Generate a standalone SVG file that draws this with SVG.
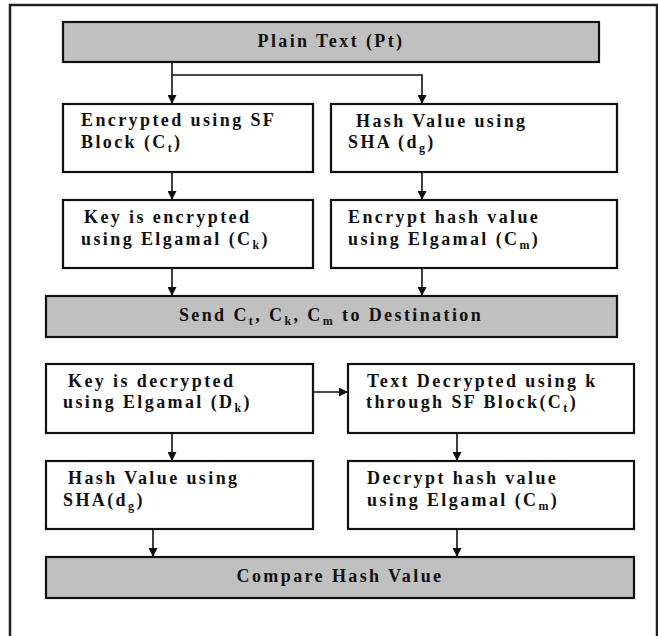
<svg xmlns="http://www.w3.org/2000/svg" width="658" height="636" viewBox="0 0 658 636">
<style>
.box{fill:#ffffff;stroke:#111;stroke-width:2.2}
.gray{fill:#c0c0c0;stroke:#111;stroke-width:2.2}
.t{font-family:"Liberation Serif","Times New Roman",serif;font-weight:bold;font-size:18px;fill:#111;letter-spacing:2.4px}
.c{text-anchor:middle}
.sub{font-size:12px}
.ln{fill:none;stroke:#111;stroke-width:1.6}
</style>
<defs>
<marker id="ah" viewBox="0 0 10 10" refX="10" refY="5" markerWidth="9" markerHeight="9" markerUnits="userSpaceOnUse" orient="auto">
<path d="M0,0 L10,5 L0,10 z" fill="#111"/>
</marker>
</defs>
<rect width="658" height="636" fill="#fff"/>
<path d="M10,640 V5 H657 V640" fill="none" stroke="#222" stroke-width="2.5"/>
<g id="connectors">
<path class="ln" d="M172,62 V104" marker-end="url(#ah)"/>
<path class="ln" d="M172,75 H422 V104" marker-end="url(#ah)"/>
<path class="ln" d="M172,172 V200" marker-end="url(#ah)"/>
<path class="ln" d="M422,172 V200" marker-end="url(#ah)"/>
<path class="ln" d="M172,268 V296" marker-end="url(#ah)"/>
<path class="ln" d="M422,268 V296" marker-end="url(#ah)"/>
<path class="ln" d="M313,392 H348" marker-end="url(#ah)"/>
<path class="ln" d="M172,433 V461" marker-end="url(#ah)"/>
<path class="ln" d="M457,433 V461" marker-end="url(#ah)"/>
<path class="ln" d="M153,529 V557" marker-end="url(#ah)"/>
<path class="ln" d="M457,529 V557" marker-end="url(#ah)"/>
</g>
<g id="plain">
<rect class="gray" x="63" y="22" width="536" height="40"/>
<text class="t c" x="331" y="47">Plain Text (Pt)</text>
</g>
<g id="encsf">
<rect class="box" x="63" y="104" width="250" height="68"/>
<text class="t" x="81" y="126">Encrypted using SF</text>
<text class="t" x="81" y="148">Block (C<tspan class="sub" dy="4">t</tspan><tspan dy="-4">)</tspan></text>
</g>
<g id="hashsha">
<rect class="box" x="331" y="104" width="286" height="68"/>
<text class="t" x="356" y="127">Hash Value using</text>
<text class="t" x="348" y="148">SHA (d<tspan class="sub" dy="4">g</tspan><tspan dy="-4">)</tspan></text>
</g>
<g id="keyenc">
<rect class="box" x="63" y="200" width="250" height="68"/>
<text class="t" x="84" y="223">Key is encrypted</text>
<text class="t" x="81" y="245">using Elgamal (C<tspan class="sub" dy="4">k</tspan><tspan dy="-4">)</tspan></text>
</g>
<g id="enchash">
<rect class="box" x="331" y="200" width="286" height="68"/>
<text class="t" x="348" y="223">Encrypt hash value</text>
<text class="t" x="348" y="245">using Elgamal (C<tspan class="sub" dy="4">m</tspan><tspan dy="-4">)</tspan></text>
</g>
<g id="send">
<rect class="gray" x="46" y="296" width="571" height="41"/>
<text class="t c" x="331" y="321">Send C<tspan class="sub" dy="4">t</tspan><tspan dy="-4">, C</tspan><tspan class="sub" dy="4">k</tspan><tspan dy="-4">, C</tspan><tspan class="sub" dy="4">m</tspan><tspan dy="-4"> to Destination</tspan></text>
</g>
<g id="keydec">
<rect class="box" x="46" y="364" width="267" height="69"/>
<text class="t" x="68" y="387">Key is decrypted</text>
<text class="t" x="63" y="408">using Elgamal (D<tspan class="sub" dy="4">k</tspan><tspan dy="-4">)</tspan></text>
</g>
<g id="textdec">
<rect class="box" x="348" y="364" width="286" height="69"/>
<text class="t" x="367" y="387">Text Decrypted using k</text>
<text class="t" x="366" y="408">through SF Block(C<tspan class="sub" dy="4">t</tspan><tspan dy="-4">)</tspan></text>
</g>
<g id="hashsha2">
<rect class="box" x="46" y="461" width="267" height="68"/>
<text class="t" x="68" y="484">Hash Value using</text>
<text class="t" x="63" y="506">SHA(d<tspan class="sub" dy="4">g</tspan><tspan dy="-4">)</tspan></text>
</g>
<g id="dechash">
<rect class="box" x="348" y="461" width="286" height="68"/>
<text class="t" x="367" y="484">Decrypt hash value</text>
<text class="t" x="367" y="506">using Elgamal (C<tspan class="sub" dy="4">m</tspan><tspan dy="-4">)</tspan></text>
</g>
<g id="compare">
<rect class="gray" x="46" y="557" width="588" height="41"/>
<text class="t c" x="340" y="582">Compare Hash Value</text>
</g>
</svg>
